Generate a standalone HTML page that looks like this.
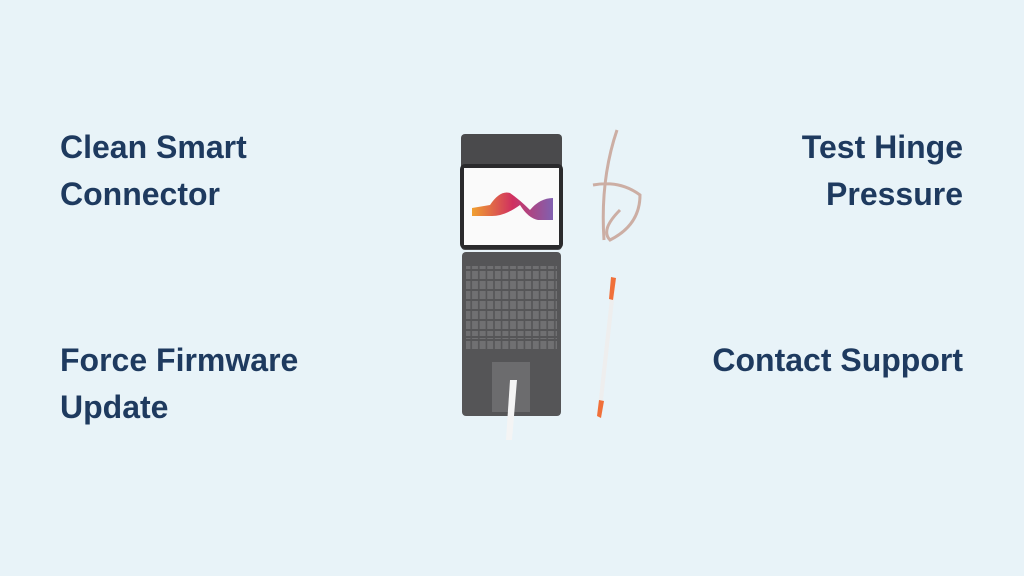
<!DOCTYPE html>
<html><head><meta charset="utf-8"><style>
body{margin:0;width:1024px;height:576px;background:#e8f3f8;position:relative;overflow:hidden;font-family:"Liberation Sans",sans-serif}
.t{position:absolute;font-weight:bold;font-size:32px;line-height:47px;color:#1e3a5f}
.l{left:60px}.r{right:61px;text-align:right}
</style></head><body>
<div class="t l" style="top:124px">Clean Smart<br>Connector</div>
<div class="t r" style="top:124px">Test Hinge<br>Pressure</div>
<div class="t l" style="top:337px">Force Firmware<br>Update</div>
<div class="t r" style="top:337px">Contact Support</div>
<svg width="1024" height="576" style="position:absolute;left:0;top:0">
<defs><linearGradient id="g" x1="0" x2="1"><stop offset="0" stop-color="#f0a030"/><stop offset=".5" stop-color="#d03060"/><stop offset="1" stop-color="#8060b0"/></linearGradient>
<pattern id="k" width="7.6" height="10" patternUnits="userSpaceOnUse"><rect x="0.8" y="1" width="6" height="8" fill="#707072"/></pattern></defs>
<rect x="461" y="134" width="101" height="116" rx="4" fill="#4a4a4c"/>
<rect x="460" y="164" width="103" height="85" rx="5" fill="#2a2a2c"/>
<rect x="464" y="168" width="95" height="77" fill="#fafafa"/>
<path d="M472 208 L490 205 Q500 190 510 193 Q520 200 530 210 Q540 198 553 198 L553 220 L538 220 Q528 218 520 205 Q505 216 492 216 L472 216Z" fill="url(#g)"/>
<rect x="462" y="252" width="99" height="164" rx="4" fill="#555557"/>
<rect x="466" y="266" width="91" height="70" fill="url(#k)"/>
<rect x="466" y="338" width="91" height="12" fill="url(#k)"/>
<rect x="492" y="362" width="38" height="50" fill="#6c6c6e"/>
<path d="M510 380 L517 380 L512 440 L506 440Z" fill="#f4f4f4"/>
<path d="M612 280 L616 282 L601 418 L597 416Z" fill="#eeeeee"/>
<path d="M611 277 L616 278 L613 300 L609 299Z" fill="#f0703a"/>
<path d="M599 400 L604 401 L601 418 L597 416Z" fill="#f0703a"/>
<path d="M617 130 Q600 180 604 240 M593 185 Q620 180 640 195 Q640 225 610 240 Q600 230 620 210" stroke="#c09080" stroke-width="3" fill="none" opacity=".7"/>
</svg>
</body></html>
